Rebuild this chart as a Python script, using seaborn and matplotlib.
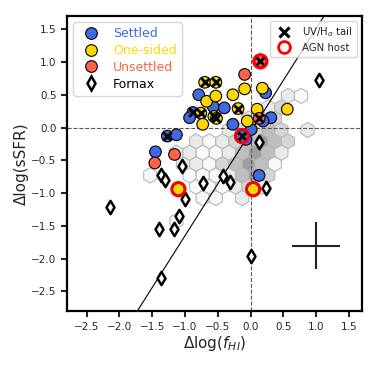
import numpy as np
import pandas as pd
import matplotlib
matplotlib.use("Agg")
import matplotlib.pyplot as plt
from matplotlib.lines import Line2D
import seaborn as sns

# VIVA-like galaxies, split by HI morphology
settled_x = [-0.79, -0.57, -0.40, -0.88, -0.93, -0.27, 0.23, 0.31, 0.01, -0.13, -0.07, -1.27, -1.13, -1.45, 0.13, 0.19]
settled_y = [0.50, 0.32, 0.30, 0.23, 0.15, 0.05, 0.53, 0.15, -0.03, -0.13, -0.18, -0.13, -0.11, -0.37, -0.73, 0.10]
settled_tail = [0, 0, 0, 1, 0, 0, 0, 0, 0, 1, 0, 1, 0, 0, 0, 0]
settled_agn = [0, 0, 0, 0, 0, 0, 0, 0, 0, 1, 0, 0, 0, 0, 0, 0]

onesided_x = [-0.70, -0.53, -0.67, -0.53, -0.27, -0.09, 0.18, -0.19, 0.10, -0.05, 0.56, -0.76, -0.56, -0.52, -0.73, -1.10, 0.04]
onesided_y = [0.69, 0.69, 0.40, 0.48, 0.50, 0.59, 0.60, 0.29, 0.28, 0.10, 0.28, 0.22, 0.17, 0.14, 0.05, -0.94, -0.94]
onesided_tail = [1, 1, 0, 0, 0, 0, 0, 1, 0, 0, 0, 1, 1, 1, 0, 0, 0]
onesided_agn = [0, 0, 0, 0, 0, 0, 0, 0, 0, 0, 0, 0, 0, 0, 0, 1, 1]

unsettled_x = [-1.46, -1.16, -0.09, 0.15, 0.13]
unsettled_y = [-0.54, -0.41, 0.81, 1.01, 0.14]
unsettled_tail = [0, 0, 0, 1, 1]
unsettled_agn = [0, 0, 0, 1, 0]

# Fornax galaxies
fornax_x = [-2.15, -1.36, -1.31, -1.05, -0.72, -0.42, -0.32, -1.00, -1.09, -1.17, -1.40, -1.37, 0.01, 0.23, 0.13, 1.04]
fornax_y = [-1.21, -0.73, -0.80, -0.58, -0.84, -0.74, -0.83, -1.09, -1.35, -1.55, -1.55, -2.30, -1.96, -0.92, -0.22, 0.73]

# comparison sample density (hexbin cells)
hex_x = [0.57, 0.77,
         0.27, 0.47,
         -0.03, 0.17, 0.37,
         -0.33, -0.13, 0.07, 0.27, 0.47, 0.87,
         -0.83, -0.63, -0.43, -0.23, -0.03, 0.17, 0.37, 0.57,
         -1.13, -0.93, -0.73, -0.53, -0.33, -0.13, 0.07, 0.27, 0.47,
         -1.03, -0.83, -0.63, -0.43, -0.23, -0.03, 0.17, 0.37,
         -1.53, -0.93, -0.73, -0.53, -0.33, -0.13, 0.07, 0.27,
         -0.83, -0.63, -0.43, -0.23, -0.03, 0.17,
         -0.73, -0.53, -0.13,
         -1.13]
hex_y = [0.483, 0.483,
         0.31, 0.31,
         0.136, 0.136, 0.136,
         -0.037, -0.037, -0.037, -0.037, -0.037, -0.037,
         -0.21, -0.21, -0.21, -0.21, -0.21, -0.21, -0.21, -0.21,
         -0.383, -0.383, -0.383, -0.383, -0.383, -0.383, -0.383, -0.383, -0.383,
         -0.556, -0.556, -0.556, -0.556, -0.556, -0.556, -0.556, -0.556,
         -0.73, -0.73, -0.73, -0.73, -0.73, -0.73, -0.73, -0.73,
         -0.903, -0.903, -0.903, -0.903, -0.903, -0.903,
         -1.076, -1.076, -1.076,
         -1.422]
hex_n = [2, 1,
         2, 3,
         2, 3, 3,
         2, 3, 3, 4, 3, 2,
         2, 1, 2, 3, 4, 5, 4, 3,
         2, 2, 1, 1, 2, 4, 5, 4, 2,
         2, 2, 1, 3, 4, 5, 4, 1,
         1, 1, 1, 1, 2, 4, 5, 3,
         1, 1, 1, 2, 3, 2,
         1, 1, 2,
         1]

# fit line and typical error
fit_slope = 1.58
fit_icpt = -0.07
err_pos = (1.0, -1.8)
err_x = 0.37
err_y = 0.36

sns.set_style("ticks")
plt.rcParams["font.family"] = ["DejaVu Sans"]

gal = pd.concat([
    pd.DataFrame({"x": settled_x, "y": settled_y, "kind": "Settled",
                  "tail": settled_tail, "agn": settled_agn}),
    pd.DataFrame({"x": onesided_x, "y": onesided_y, "kind": "One-sided",
                  "tail": onesided_tail, "agn": onesided_agn}),
    pd.DataFrame({"x": unsettled_x, "y": unsettled_y, "kind": "Unsettled",
                  "tail": unsettled_tail, "agn": unsettled_agn}),
], ignore_index=True)
fornax = pd.DataFrame({"x": fornax_x, "y": fornax_y})

colors = {"Settled": "royalblue", "One-sided": "gold", "Unsettled": "tomato"}

fig = plt.figure(figsize=(3.74, 3.74), dpi=100)
ax = fig.add_axes([0.179, 0.168, 0.789, 0.789])

# hexbin grid with 0.2 wide cells
sx = 0.2
sy = sx * np.sqrt(3)
xmin = -2.83
ymin = -0.21 - 7 * sy
ax.hexbin(hex_x, hex_y, C=hex_n, reduce_C_function=np.sum,
          gridsize=(22, 12), extent=(xmin, xmin + 22 * sx, ymin, ymin + 12 * sy),
          cmap="Greys", vmin=0.5, vmax=10, edgecolors="0.72", linewidths=0.8, zorder=1)

ax.axhline(0, color="0.35", ls="--", lw=0.8, zorder=2)
ax.axvline(0, color="0.35", ls="--", lw=0.8, zorder=2)
ax.axline((0, fit_icpt), slope=fit_slope, color="black", lw=0.8, zorder=2)

sns.scatterplot(data=fornax, x="x", y="y", marker="d", s=46, color="white",
                edgecolor="black", linewidth=1.8, legend=False, zorder=3, ax=ax)
sns.scatterplot(data=gal, x="x", y="y", hue="kind", palette=colors, s=70,
                edgecolor="black", linewidth=0.8, legend=False, zorder=3, ax=ax)

tail = gal[gal["tail"] == 1]
ax.scatter(tail["x"], tail["y"], marker="x", s=38, color="black", linewidths=2, zorder=4)
agn = gal[gal["agn"] == 1]
ax.scatter(agn["x"], agn["y"], s=95, facecolors="none", edgecolors="red", linewidths=2, zorder=5)

ax.errorbar([err_pos[0]], [err_pos[1]], xerr=[err_x], yerr=[err_y], fmt="none",
            ecolor="#222222", elinewidth=1.5, capsize=0, zorder=3)

ax.set_xlim(-2.8, 1.7)
ax.set_ylim(-2.8, 1.7)
ticks = np.arange(-2.5, 1.51, 0.5)
ax.set_xticks(ticks)
ax.set_yticks(ticks)
ax.tick_params(labelsize=7.5, length=4.5, width=1.5, pad=3)
for sp in ax.spines.values():
    sp.set_linewidth(1.6)
    sp.set_color("black")
ax.set_xlabel("Δlog($f_{HI}$)", fontsize=11, labelpad=2)
ax.set_ylabel("Δlog(sSFR)", fontsize=11, labelpad=2)

# legends
h1 = [Line2D([], [], ls="", marker="o", ms=8.4, mfc=colors[k], mec="black", mew=0.8)
      for k in ["Settled", "One-sided", "Unsettled"]]
h1.append(Line2D([], [], ls="", marker="d", ms=7.4, mfc="white", mec="black", mew=1.8))
leg1 = ax.legend(h1, ["Settled", "One-sided", "Unsettled", "Fornax"], loc="upper left",
                 fontsize=9, labelspacing=0.3)
for t, c in zip(leg1.get_texts(), ["royalblue", "gold", "tomato", "black"]):
    t.set_color(c)
ax.add_artist(leg1)

h2 = [Line2D([], [], ls="", marker="x", ms=6.5, color="black", mew=2.2),
      Line2D([], [], ls="", marker="o", ms=8.5, mfc="none", mec="red", mew=2)]
ax.legend(h2, ["UV/H$_{\\alpha}$ tail", "AGN host"], loc="upper right",
          fontsize=7.3, labelspacing=0.35)

fig.savefig("out.png", dpi=100)
